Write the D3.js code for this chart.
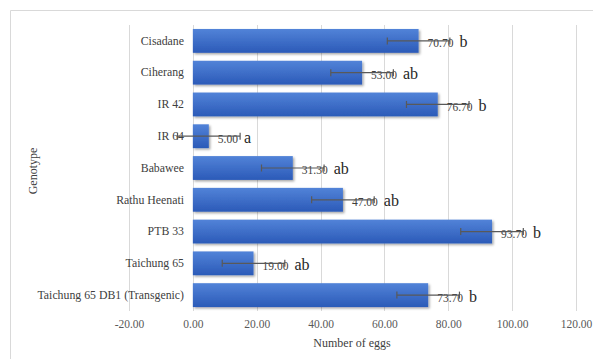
<!DOCTYPE html>
<html><head><meta charset="utf-8">
<script src="https://cdn.jsdelivr.net/npm/d3@7"></script>
<style>body{margin:0;background:#fff}svg{display:block}</style>
</head><body><div id="c"></div>
<script>
const categories = ["Cisadane","Ciherang","IR 42","IR 64","Babawee","Rathu Heenati","PTB 33","Taichung 65","Taichung 65 DB1 (Transgenic)"];
const values = [70.70,53.00,76.70,5.00,31.30,47.00,93.70,19.00,73.70];
const errors = [9.8,9.8,9.8,9.8,9.8,9.8,9.8,9.8,9.8];
const letters = ["b","ab","b","a","ab","ab","b","ab","b"];
const xTicks = [-20,0,20,40,60,80,100,120];

const FONT="'Liberation Serif','Times New Roman',serif";
const W=593,H=359;
const svg=d3.select("#c").append("svg").attr("width",W).attr("height",H);
const defs=svg.append("defs");
const g1=defs.append("linearGradient").attr("id","bg").attr("x1",0).attr("y1",0).attr("x2",0).attr("y2",1);
g1.append("stop").attr("offset","0%").attr("stop-color","#5283d8");
g1.append("stop").attr("offset","100%").attr("stop-color","#2b5ab8");
const f=defs.append("filter").attr("id","sh").attr("x","-10%").attr("y","-20%").attr("width","130%").attr("height","160%");
f.append("feDropShadow").attr("dx",1.5).attr("dy",1.5).attr("stdDeviation",1.2).attr("flood-color","#000").attr("flood-opacity",0.35);

svg.append("path").attr("d","M10.5,"+H+"V10.5H"+W).attr("fill","none").attr("stroke","#d9d9d9");

const x=d3.scaleLinear().domain([-20,120]).range([129,576]);
const y=d3.scaleBand().domain(categories).range([25,311]).paddingInner(0.25).paddingOuter(0.125);

svg.append("g").selectAll("line").data(xTicks).join("line")
 .attr("x1",d=>Math.round(x(d))+0.5).attr("x2",d=>Math.round(x(d))+0.5)
 .attr("y1",25).attr("y2",311).attr("stroke","#d9d9d9").attr("stroke-width",1);

const fmt=d=>(d<0?"-":"")+Math.abs(d).toFixed(2);
const xAxis=d3.axisBottom(x).tickValues(xTicks).tickFormat(fmt).tickSize(0).tickPadding(0);
const ga=svg.append("g").attr("transform","translate(0,320)").call(xAxis);
ga.attr("font-family",FONT);
ga.select(".domain").remove();
ga.selectAll("text").attr("font-family",FONT).attr("font-size",11.5).attr("fill","#595959").attr("dy","0.71em");

const yAxis=d3.axisLeft(y).tickSize(0).tickPadding(0);
const gy=svg.append("g").attr("transform","translate(184,0)").call(yAxis);
gy.attr("font-family",FONT);
gy.select(".domain").remove();
gy.selectAll("text").attr("font-family",FONT).attr("font-size",11.8).attr("fill","#404040");

svg.append("g").selectAll("rect").data(categories).join("rect")
 .attr("x",x(0)).attr("y",d=>y(d)).attr("width",(d,i)=>x(values[i])-x(0)).attr("height",y.bandwidth())
 .attr("fill","url(#bg)").attr("filter","url(#sh)");

const lab=svg.append("g").selectAll("text").data(categories).join("text")
 .attr("x",(d,i)=>x(values[i])+9).attr("y",d=>y(d)+y.bandwidth()/2).attr("dy","0.4em")
 .attr("font-family",FONT).attr("fill","#404040");
lab.append("tspan").attr("font-size",11.5).text((d,i)=>values[i].toFixed(2));
lab.append("tspan").attr("font-size",16).attr("dx",6).attr("fill","#262626").text((d,i)=>letters[i]);

const eb=svg.append("g").attr("stroke","#595959").attr("stroke-width",1.2);
categories.forEach((c,i)=>{
  const cy=y(c)+y.bandwidth()/2, a=x(values[i]-errors[i]), b=x(values[i]+errors[i]);
  eb.append("line").attr("x1",a).attr("x2",b).attr("y1",cy).attr("y2",cy);
  eb.append("line").attr("x1",a).attr("x2",a).attr("y1",cy-3.5).attr("y2",cy+3.5);
  eb.append("line").attr("x1",b).attr("x2",b).attr("y1",cy-3.5).attr("y2",cy+3.5);
});

svg.append("text").attr("x",352).attr("y",347).attr("text-anchor","middle")
 .attr("font-family",FONT).attr("font-size",12).attr("fill","#404040").text("Number of eggs");
svg.append("text").attr("transform","translate(37,171) rotate(-90)").attr("text-anchor","middle")
 .attr("font-family",FONT).attr("font-size",12).attr("fill","#404040").text("Genotype");
</script></body></html>
